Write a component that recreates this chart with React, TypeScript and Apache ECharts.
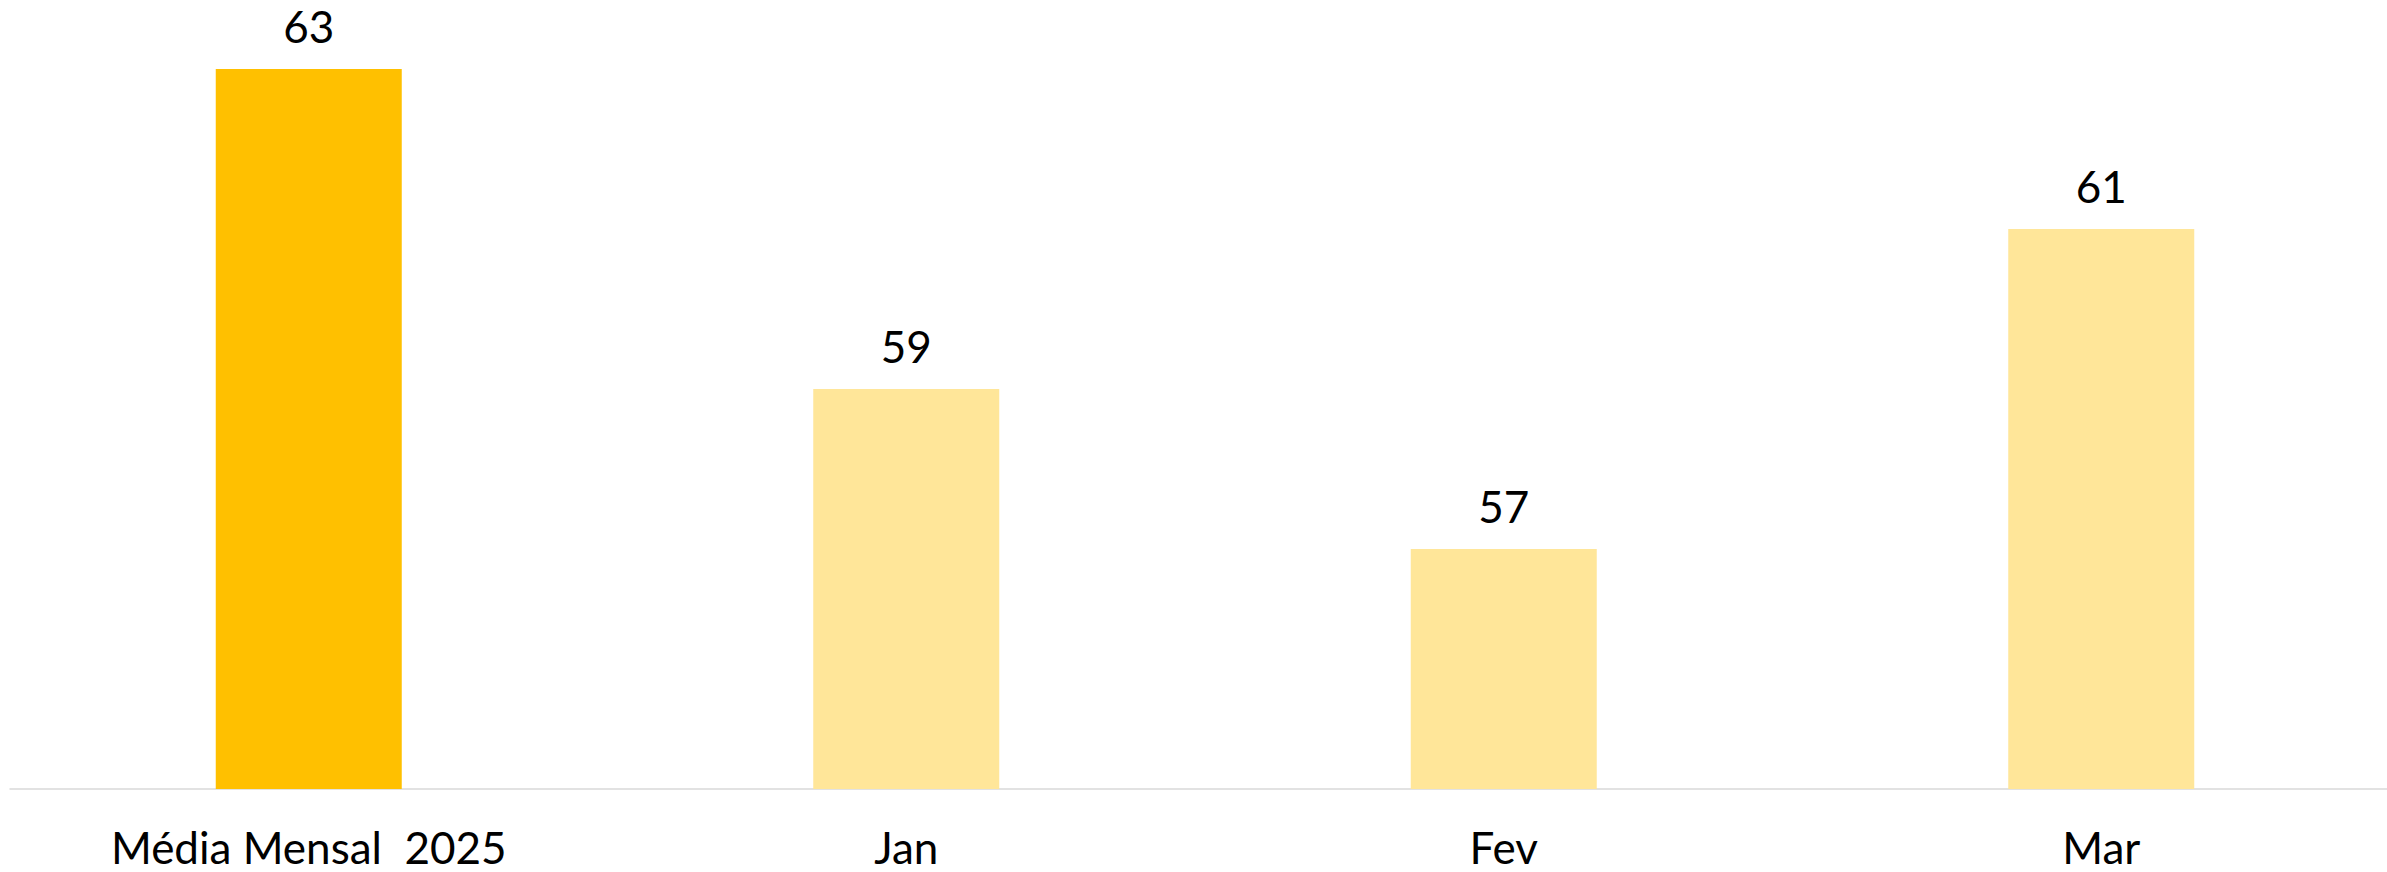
import React, { useEffect, useRef } from "react";
import * as echarts from "echarts";

const categories = ["Média Mensal  2025", "Jan", "Fev", "Mar"];
const values = [63, 59, 57, 61];
const barColors = ["#FFC000", "#FFE699", "#FFE699", "#FFE699"];

export default function App() {
  const ref = useRef<HTMLDivElement>(null);
  useEffect(() => {
    if (!ref.current) return;
    const chart = echarts.init(ref.current, undefined, { renderer: "svg" });
    chart.setOption({
      animation: false,
      grid: {
        left: 10,
        width: 2390,
        top: 69,
        bottom: 83,
        containLabel: false,
        outerBoundsMode: "none",
      },
      xAxis: {
        type: "category",
        data: categories,
        axisLine: { show: true, lineStyle: { color: "#D9D9D9", width: 1.5 } },
        axisTick: { show: false },
        axisLabel: {
          color: "#000",
          fontFamily: "Lato",
          fontSize: 44,
          margin: 36,
        },
      },
      yAxis: {
        type: "value",
        min: 54,
        max: 63,
        show: false,
        splitLine: { show: false },
      },
      series: [
        {
          type: "bar",
          barWidth: 186,
          data: values.map((v, i) => ({ value: v, itemStyle: { color: barColors[i] } })),
          label: {
            show: true,
            position: "top",
            distance: 21,
            color: "#000",
            fontFamily: "Lato",
            fontSize: 44,
          },
        },
      ],
    });
    return () => chart.dispose();
  }, []);
  return <div ref={ref} style={{ width: 2387, height: 872, position: "absolute", left: 0, top: 0 }} />;
}
